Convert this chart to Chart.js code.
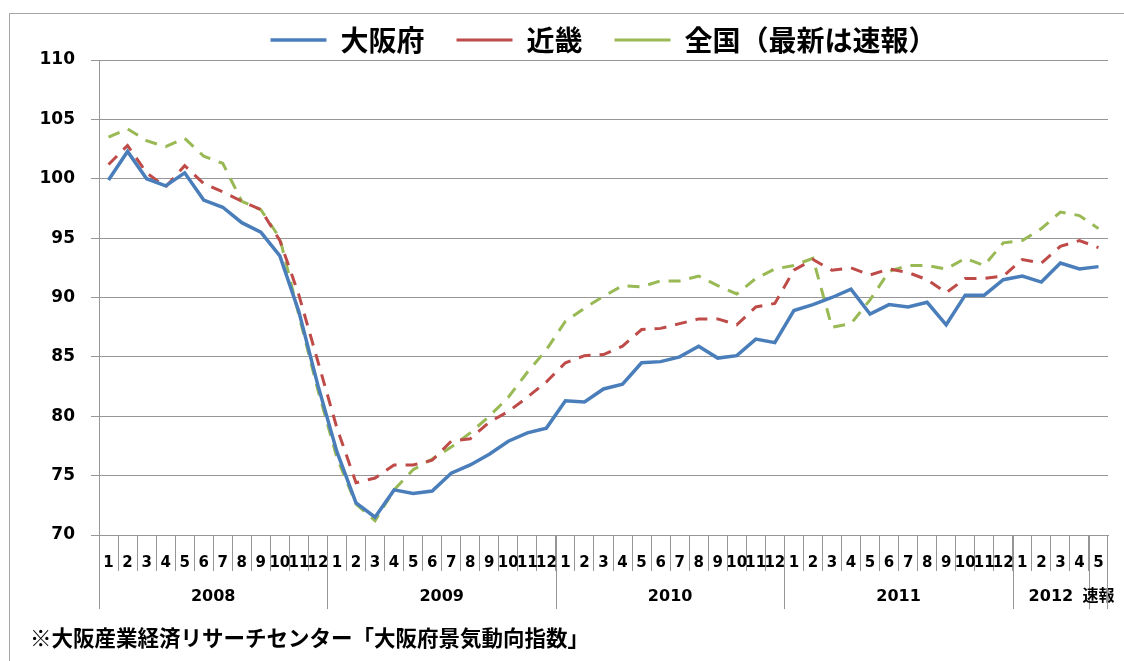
<!DOCTYPE html>
<html lang="ja">
<head>
<meta charset="UTF-8">
<title>大阪府 景気動向指数</title>
<script src="https://cdn.jsdelivr.net/npm/chart.js@4.4.1/dist/chart.umd.min.js"></script>
<style>
    html, body { margin: 0; padding: 0; background: #fff; overflow: hidden; }
    #wrap { position: relative; width: 1124px; height: 661px; }
    #frame {
        position: absolute; left: 9px; top: 13px;
        width: 1200px; height: 700px;
        border: 1px solid #a6a6a6;
    }
    #chart { position: absolute; left: 0; top: 0; }
    #note {
        position: absolute; left: 30px; top: 621px;
        font: bold 21.5px 'Noto Sans CJK JP', sans-serif;
        color: #000; white-space: nowrap;
    }
</style>
</head>
<body>
<div id="wrap">
    <div id="frame"></div>
    <canvas id="chart" width="1124" height="661"></canvas>
    <div id="note">※大阪産業経済リサーチセンター「大阪府景気動向指数」</div>
</div>
<script>
// 月ラベル (2008年1月〜2012年5月)
const monthLabels = [
    '1','2','3','4','5','6','7','8','9','10','11','12',
    '1','2','3','4','5','6','7','8','9','10','11','12',
    '1','2','3','4','5','6','7','8','9','10','11','12',
    '1','2','3','4','5','6','7','8','9','10','11','12',
    '1','2','3','4','5'
];

// 年のグループ (ラベルと月数)
const yearLabels = ['2008', '2009', '2010', '2011', '2012', '速報'];
const yearSpans = [12, 12, 12, 12, 4, 1];

// 系列データ
const osakaValues = [
    99.9, 102.3, 100.0, 99.4, 100.5, 98.2, 97.6, 96.3, 95.5, 93.5, 88.8, 82.6,
    77.0, 72.7, 71.5, 73.8, 73.5, 73.7, 75.2, 75.9, 76.8, 77.9, 78.6, 79.0,
    81.3, 81.2, 82.3, 82.7, 84.5, 84.6, 85.0, 85.9, 84.9, 85.1, 86.5, 86.2,
    88.9, 89.4, 90.0, 90.7, 88.6, 89.4, 89.2, 89.6, 87.7, 90.2, 90.2, 91.5,
    91.8, 91.3, 92.9, 92.4, 92.6
];
const kinkiValues = [
    101.2, 102.8, 100.5, 99.3, 101.1, 99.6, 98.9, 98.1, 97.4, 94.8, 90.2, 84.6,
    79.0, 74.4, 74.8, 75.9, 75.9, 76.3, 77.9, 78.1, 79.5, 80.4, 81.6, 82.9,
    84.5, 85.1, 85.2, 85.9, 87.3, 87.4, 87.8, 88.2, 88.2, 87.7, 89.2, 89.5,
    92.3, 93.2, 92.3, 92.5, 91.9, 92.4, 92.1, 91.5, 90.4, 91.6, 91.6, 91.8,
    93.2, 92.9, 94.3, 94.8, 94.2
];
const nationalValues = [
    103.5, 104.2, 103.2, 102.7, 103.4, 101.9, 101.3, 98.1, 97.4, 95.0, 88.5, 82.2,
    76.5, 72.6, 71.2, 73.8, 75.5, 76.4, 77.4, 78.6, 80.0, 81.6, 83.7, 85.6,
    88.0, 89.1, 90.1, 91.0, 90.9, 91.4, 91.4, 91.8, 91.0, 90.3, 91.6, 92.4,
    92.7, 93.3, 87.5, 87.8, 89.8, 92.2, 92.7, 92.7, 92.4, 93.3, 92.7, 94.6,
    94.8, 95.8, 97.2, 96.9, 95.8
];

// 縦軸の範囲
const yMin = 70;
const yMax = 110;
const yStep = 5;

const gridColor = '#969696';
const fontLatin = "'DejaVu Sans', 'Noto Sans CJK JP', sans-serif";

// 年の区切り線と年ラベルを描く
const yearGroupPlugin = {
    id: 'yearGroups',
    afterDraw(chart) {
        const xScale = chart.scales.x;
        const ctx = chart.ctx;
        const step = (xScale.right - xScale.left) / monthLabels.length;
        const top = chart.chartArea.bottom;
        const bottom = top + 74;

        ctx.save();
        ctx.strokeStyle = gridColor;
        ctx.lineWidth = 1;
        ctx.fillStyle = '#000';
        ctx.font = 'bold 16px ' + fontLatin;
        ctx.textAlign = 'center';
        ctx.textBaseline = 'middle';

        let start = 0;
        yearLabels.forEach((label, i) => {
            const x0 = xScale.left + start * step;
            const x1 = xScale.left + (start + yearSpans[i]) * step;
            ctx.beginPath();
            ctx.moveTo(Math.round(x0) + 0.5, top);
            ctx.lineTo(Math.round(x0) + 0.5, bottom);
            ctx.stroke();
            ctx.fillText(label, (x0 + x1) / 2, top + 62);
            start += yearSpans[i];
        });
        const xEnd = xScale.left + start * step;
        ctx.beginPath();
        ctx.moveTo(Math.round(xEnd) - 0.5, top);
        ctx.lineTo(Math.round(xEnd) - 0.5, bottom);
        ctx.stroke();
        ctx.restore();
    }
};

document.addEventListener('DOMContentLoaded', function() {
    const ctx = document.getElementById('chart').getContext('2d');

    new Chart(ctx, {
        type: 'line',
        data: {
            labels: monthLabels,
            datasets: [{
                label: '大阪府',
                data: osakaValues,
                borderColor: '#4a7ebb',
                backgroundColor: '#4a7ebb',
                borderWidth: 3.5,
                pointRadius: 0,
                tension: 0
            }, {
                label: '近畿',
                data: kinkiValues,
                borderColor: '#be4b48',
                backgroundColor: '#be4b48',
                borderWidth: 3,
                borderDash: [12, 9],
                pointRadius: 0,
                tension: 0
            }, {
                label: '全国（最新は速報）',
                data: nationalValues,
                borderColor: '#98b954',
                backgroundColor: '#98b954',
                borderWidth: 3,
                borderDash: [12, 9],
                pointRadius: 0,
                tension: 0
            }]
        },
        options: {
            responsive: false,
            animation: false,
            layout: {
                padding: { top: -6, right: 16, bottom: 0, left: 0 }
            },
            plugins: {
                legend: {
                    position: 'top',
                    fullSize: false,
                    maxHeight: 66,
                    labels: {
                        usePointStyle: true,
                        pointStyle: 'line',
                        pointStyleWidth: 56,
                        padding: 32,
                        color: '#000',
                        font: { family: "'Noto Sans CJK JP', sans-serif", size: 28, weight: 'bold' }
                    }
                },
                tooltip: { enabled: false }
            },
            scales: {
                x: {
                    offset: true,
                    afterFit: function(scale) { scale.height = 126; },
                    grid: {
                        offset: true,
                        drawOnChartArea: false,
                        tickLength: 36,
                        color: gridColor
                    },
                    border: { color: gridColor },
                    ticks: {
                        autoSkip: false,
                        maxRotation: 0,
                        minRotation: 0,
                        padding: -17,
                        color: '#000',
                        font: { family: fontLatin, size: 15, weight: 'bold' }
                    }
                },
                y: {
                    min: yMin,
                    max: yMax,
                    afterFit: function(scale) { scale.width = 99; },
                    grid: {
                        color: gridColor,
                        tickLength: 8
                    },
                    border: { color: gridColor },
                    ticks: {
                        stepSize: yStep,
                        padding: 16,
                        color: '#000',
                        font: { family: fontLatin, size: 17, weight: 'bold' }
                    }
                }
            }
        },
        plugins: [yearGroupPlugin]
    });
});
</script>
</body>
</html>
